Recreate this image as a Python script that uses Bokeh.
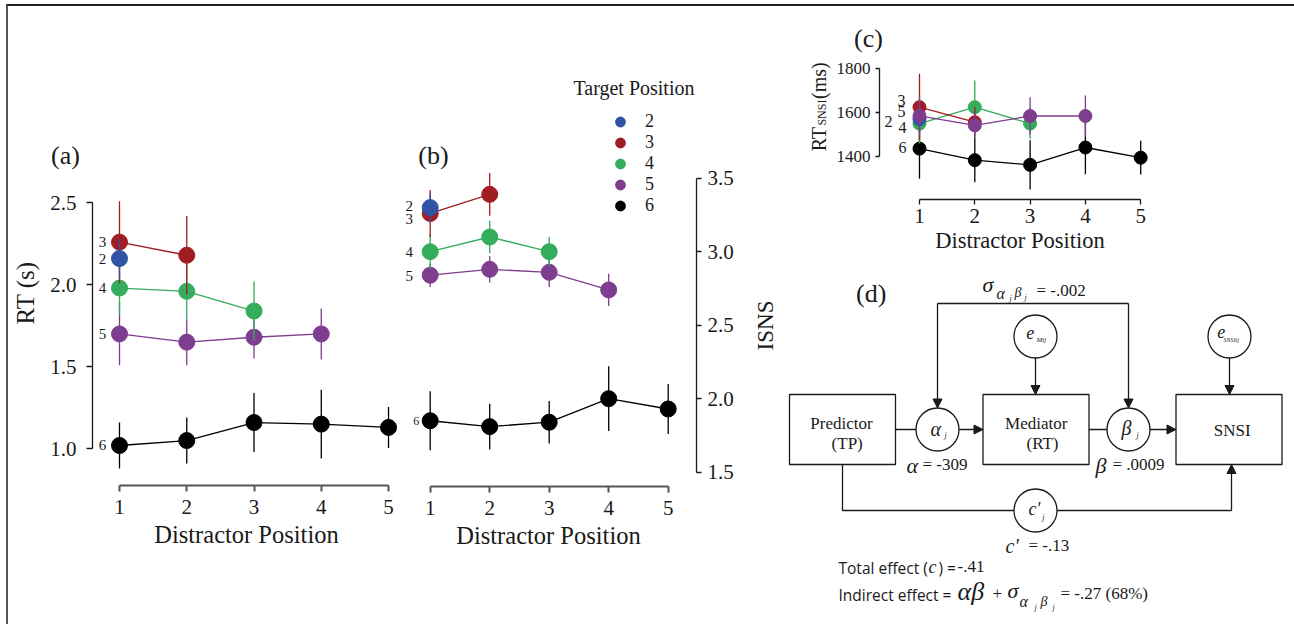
import math
from bokeh.plotting import figure
from bokeh.layouts import row, column
from bokeh.models import (Range1d, FixedTicker, PrintfTickFormatter, Label, Legend,
                          LegendItem, ColumnDataSource, Arrow, NormalHead)
from bokeh.core.properties import value
from bokeh.embed import file_html
from bokeh.resources import INLINE

SERIF = "Liberation Serif"
SANS = "Open Sans"
INK = "#1a1a1a"

# ------------------------------------------------------------------ data
distractor = [1, 2, 3, 4, 5]
target_positions = [2, 3, 4, 5, 6]
target_colors = ["#3153A5", "#A11D24", "#34AD5C", "#7E3D8F", "#000000"]

# (a) RT (s): mean and error per target position, over distractor positions
rt_t2 = [2.16]
rt_t2_err = [0.12]
rt_t3 = [2.26, 2.18]
rt_t3_err = [0.25, 0.24]
rt_t4 = [1.98, 1.96, 1.84]
rt_t4_err = [0.16, 0.17, 0.18]
rt_t5 = [1.70, 1.65, 1.68, 1.70]
rt_t5_err = [0.19, 0.14, 0.13, 0.155]
rt_t6 = [1.02, 1.05, 1.16, 1.15, 1.13]
rt_t6_err = [0.14, 0.14, 0.18, 0.21, 0.125]

# (b) ISNS
isns_t2 = [3.30]
isns_t2_err = [0.10]
isns_t3 = [3.26, 3.39]
isns_t3_err = [0.16, 0.145]
isns_t4 = [3.00, 3.10, 3.00]
isns_t4_err = [0.12, 0.11, 0.10]
isns_t5 = [2.84, 2.88, 2.86, 2.74]
isns_t5_err = [0.08, 0.09, 0.10, 0.11]
isns_t6 = [1.85, 1.81, 1.84, 2.00, 1.93]
isns_t6_err = [0.20, 0.155, 0.145, 0.22, 0.17]

# (c) RT SNSI (ms)
rtsnsi_t2 = [1570]
rtsnsi_t2_err = [60]
rtsnsi_t3 = [1624, 1556]
rtsnsi_t3_err = [150, 70]
rtsnsi_t4 = [1550, 1624, 1550]
rtsnsi_t4_err = [90, 120, 70]
rtsnsi_t5 = [1585, 1542, 1584, 1584]
rtsnsi_t5_err = [90, 56, 85, 92]
rtsnsi_t6 = [1437, 1385, 1364, 1442, 1396]
rtsnsi_t6_err = [136, 100, 111, 120, 76]

# tick labels
rt_ticks = [1.0, 1.5, 2.0, 2.5]
isns_ticks = [1.5, 2.0, 2.5, 3.0, 3.5]
rtsnsi_ticks = [1400, 1600, 1800]

# (d) mediation estimates
alpha_est = "-309"
beta_est = ".0009"
sigma_est = "-.002"
c_prime_est = "-.13"
total_effect = "-.41"
indirect_effect = "-.27 (68%)"

# ------------------------------------------------------------------ helpers
def style_axis(ax, tick_size, label_size, line_color=INK, line_width=1.3, tick_out=6):
    ax.axis_line_color = line_color
    ax.axis_line_width = line_width
    ax.major_tick_line_color = line_color
    ax.major_tick_line_width = line_width
    ax.major_tick_in = 0
    ax.major_tick_out = tick_out
    ax.minor_tick_line_color = None
    ax.major_label_text_font = SERIF
    ax.major_label_text_font_size = tick_size
    ax.major_label_text_color = INK
    ax.axis_label_text_font = SERIF
    ax.axis_label_text_font_size = label_size
    ax.axis_label_text_font_style = "normal"
    ax.axis_label_text_color = INK


def base_fig(w, h, xr, yr, borders, **kw):
    l, r, t, b = borders
    p = figure(width=w, height=h, x_range=Range1d(*xr), y_range=Range1d(*yr),
               output_backend="svg", toolbar_location=None, title=None,
               min_border_left=l, min_border_right=r, min_border_top=t,
               min_border_bottom=b, **kw)
    p.outline_line_color = None
    p.grid.visible = False
    p.background_fill_color = "white"
    p.border_fill_color = "white"
    return p


def draw_series(p, means, errs, order, size, offsets, label_sizes):
    for i in order:
        m, e, c = means[i], errs[i], target_colors[i]
        xs = distractor[:len(m)]
        src = ColumnDataSource(dict(x=xs, y=m,
                                    lo=[a - b for a, b in zip(m, e)],
                                    hi=[a + b for a, b in zip(m, e)]))
        p.segment(x0="x", y0="lo", x1="x", y1="hi", source=src,
                  line_color=c, line_width=1.3)
        p.line("x", "y", source=src, line_color=c, line_width=1.3)
        p.scatter("x", "y", source=src, size=size, fill_color=c, line_color=c)
        dx, dy = offsets[i]
        p.text(x=[xs[0]], y=[m[0]], text=[str(target_positions[i])],
               x_offset=dx, y_offset=dy, text_font=value(SERIF),
               text_font_size=label_sizes[i], text_align="center",
               text_baseline="middle", text_color=INK)


def outer_label(p, side, **kw):
    kw.setdefault("text_font", SERIF)
    kw.setdefault("text_align", "center")
    kw.setdefault("text_baseline", "middle")
    kw.setdefault("text_color", INK)
    p.add_layout(Label(**kw), side)


# ------------------------------------------------------------------ panel (a)
rt_means = [rt_t2, rt_t3, rt_t4, rt_t5, rt_t6]
rt_errs = [rt_t2_err, rt_t3_err, rt_t4_err, rt_t5_err, rt_t6_err]

pa = base_fig(392, 618, (0.5985, 5.178), (0.776, 3.1236), (84, 0, 94, 139))
draw_series(pa, rt_means, rt_errs, [4, 3, 2, 1, 0], 16,
            [(-17, 0)] * 5, ["15px"] * 5)
xa = pa.xaxis[0]
style_axis(xa, "21px", "24.5px", line_color="#555555", line_width=2, tick_out=6)
xa.ticker = FixedTicker(ticks=distractor)
xa.bounds = (1, 5)
xa.axis_label = "Distractor Position"
xa.major_label_standoff = 8
xa.axis_label_standoff = 4
ya = pa.yaxis[0]
style_axis(ya, "21px", "25px")
ya.ticker = FixedTicker(ticks=rt_ticks)
ya.formatter = PrintfTickFormatter(format="%.1f")
ya.bounds = (rt_ticks[0], rt_ticks[-1])
ya.axis_label = "RT (s)"
ya.major_label_standoff = 10
ya.axis_label_standoff = 8
outer_label(pa, "above", x=0.197, y=2.788, text="(a)", text_font_size="26px")

# ------------------------------------------------------------------ panel (b)
isns_means = [isns_t2, isns_t3, isns_t4, isns_t5, isns_t6]
isns_errs = [isns_t2_err, isns_t3_err, isns_t4_err, isns_t5_err, isns_t6_err]

pb = base_fig(382, 618, (0.5008, 5.4756), (1.4027, 4.2327), (0, 86, 64, 138),
              y_axis_location="right")
draw_series(pb, isns_means, isns_errs, [4, 3, 2, 1, 0], 16,
            [(-21, -2), (-21, 6), (-21, 0), (-21, 1), (-14, 0)],
            ["15px", "15px", "15px", "15px", "12px"])
xb = pb.xaxis[0]
style_axis(xb, "21px", "24.5px", line_color="#555555", line_width=2, tick_out=6)
xb.ticker = FixedTicker(ticks=distractor)
xb.bounds = (1, 5)
xb.axis_label = "Distractor Position"
xb.major_label_standoff = 8
xb.axis_label_standoff = 4
yb = pb.yaxis[0]
style_axis(yb, "21px", "25px", tick_out=5)
yb.ticker = FixedTicker(ticks=isns_ticks)
yb.formatter = PrintfTickFormatter(format="%.1f")
yb.bounds = (isns_ticks[0], isns_ticks[-1])
yb.major_label_standoff = 6
outer_label(pb, "above", x=6.635, y=2.498, text="ISNS", angle=math.pi / 2,
            text_font_size="23px")
pb.add_layout(Label(x=1.055, y=3.654, text="(b)", text_font=SERIF,
                    text_font_size="26px", text_align="center",
                    text_baseline="middle", text_color=INK))

# legend: Target Position (proxy renderers carry the legend glyph style)
legend_items = []
for i, t in enumerate(target_positions):
    r = pb.scatter(x=[float("nan")], y=[float("nan")], size=12, line_width=3.6,
                   fill_color=target_colors[i], line_color=target_colors[i])
    legend_items.append(LegendItem(label=str(t), renderers=[r]))
leg = Legend(items=legend_items, location=(211, 270), padding=0, margin=0,
             spacing=0, glyph_width=18, glyph_height=21, label_height=21,
             label_standoff=16, label_text_font=SERIF, label_text_font_size="18px",
             label_text_color=INK, border_line_color=None,
             background_fill_alpha=0)
pb.add_layout(leg)
pb.add_layout(Label(x=3.408, y=4.117, text="Target Position", text_font=SERIF,
                    text_font_size="20px", text_align="left",
                    text_baseline="middle", text_color=INK))

# ------------------------------------------------------------------ panel (c)
rs_means = [rtsnsi_t2, rtsnsi_t3, rtsnsi_t4, rtsnsi_t5, rtsnsi_t6]
rs_errs = [rtsnsi_t2_err, rtsnsi_t3_err, rtsnsi_t4_err, rtsnsi_t5_err, rtsnsi_t6_err]

pc = base_fig(512, 249, (0.2767, 5.358), (1207.6, 1834.3), (97, 134, 54, 54))
draw_series(pc, rs_means, rs_errs, [4, 2, 1, 0, 3], 13,
            [(-31, 2), (-18, -7), (-17, 4), (-18, -4), (-17, -1)],
            ["16px"] * 5)
xc = pc.xaxis[0]
style_axis(xc, "21px", "22.5px", tick_out=5)
xc.ticker = FixedTicker(ticks=distractor)
xc.bounds = (1, 5)
xc.axis_label = "Distractor Position"
xc.major_label_standoff = 4
xc.axis_label_standoff = 2
yc = pc.yaxis[0]
style_axis(yc, "17px", "20px", tick_out=4)
yc.ticker = FixedTicker(ticks=rtsnsi_ticks)
yc.bounds = (rtsnsi_ticks[0], rtsnsi_ticks[-1])
yc.major_label_standoff = 5
for txt, yv, xv, fs in [("RT", 1425, -0.826, "20px"), ("SNSI", 1541, -0.76, "12px"),
                        ("(ms)", 1661, -0.826, "20px")]:
    outer_label(pc, "right", x=xv, y=yv, text=txt, angle=math.pi / 2,
                text_font_size=fs, text_align="left")
outer_label(pc, "above", x=0.078, y=1932, text="(c)", text_font_size="26px")

# ------------------------------------------------------------------ panel (d)
pd_ = figure(width=512, height=369, x_range=Range1d(782, 1294), y_range=Range1d(624, 255),
             output_backend="svg", toolbar_location=None, title=None,
             x_axis_type=None, y_axis_type=None, min_border=0)
pd_.outline_line_color = None
pd_.grid.visible = False

# diagram layout (pixel units of the panel)
node = {"pred": (842, 429), "med": (1035.5, 429), "snsi": (1228.5, 429),
        "alpha": (937, 429), "beta": (1128, 429), "eM": (1035, 336),
        "eS": (1229, 336), "cp": (1035, 510)}
box_w, box_h, rad = 106, 70, 21.5
loop_top, loop_bot = 303, 510

boxes = ["pred", "med", "snsi"]
pd_.quad(left=[node[b][0] - box_w / 2 for b in boxes],
         right=[node[b][0] + box_w / 2 for b in boxes],
         top=[node[b][1] - box_h / 2 for b in boxes],
         bottom=[node[b][1] + box_h / 2 for b in boxes],
         fill_color=None, line_color=INK, line_width=1.3)
circles = ["alpha", "beta", "eM", "eS", "cp"]
pd_.circle(x=[node[c][0] for c in circles], y=[node[c][1] for c in circles],
           radius=rad, fill_color="white", line_color=INK, line_width=1.3)

ax_, ay_ = node["alpha"]
bx_, by_ = node["beta"]
px_, py_ = node["pred"]
mx_, my_ = node["med"]
sx_, sy_ = node["snsi"]
cx_, cy_ = node["cp"]
pd_.multi_line(
    xs=[[px_ + box_w / 2, ax_ - rad], [mx_ + box_w / 2, bx_ - rad], [ax_, bx_],
        [px_, px_, cx_ - rad], [cx_ + rad, sx_ + 2.5]],
    ys=[[py_, ay_], [my_, by_], [loop_top, loop_top],
        [py_ + box_h / 2, loop_bot, loop_bot], [loop_bot, loop_bot]],
    line_color=INK, line_width=1.3)
arrows = ColumnDataSource(dict(
    x0=[ax_ + rad, bx_ + rad, node["eM"][0], node["eS"][0], ax_, bx_, sx_ + 2.5],
    y0=[ay_, by_, node["eM"][1] + rad, node["eS"][1] + rad, loop_top, loop_top, loop_bot],
    x1=[mx_ - box_w / 2, sx_ - box_w / 2, node["eM"][0], node["eS"][0], ax_, bx_, sx_ + 2.5],
    y1=[my_, sy_, my_ - box_h / 2, sy_ - box_h / 2, ay_ - rad, by_ - rad, sy_ + box_h / 2]))
pd_.add_layout(Arrow(end=NormalHead(size=9, fill_color=INK, line_color=INK, line_width=1),
                     x_start="x0", y_start="y0", x_end="x1", y_end="y1",
                     source=arrows, line_color=INK, line_width=1.3))


def dtext(x, y, s, size, italic=False, font=SERIF, align="left"):
    pd_.text(x=[x], y=[y], text=[s], text_font=value(font), text_font_size=size,
             text_font_style="italic" if italic else "normal", text_align=align,
             text_baseline="middle", text_color=INK)


dtext(870.7, 293, "(d)", "26px", align="center")
# sigma_{alpha_j beta_j}
dtext(982, 284, "σ", "22px", italic=True)
dtext(996, 293, "α", "16px", italic=True)
dtext(1009, 298, "j", "8px", italic=True)
dtext(1014, 292, "β", "14px", italic=True)
dtext(1024, 297, "j", "8px", italic=True)
dtext(1036, 290, "= " + sigma_est, "17px")
# boxes
dtext(841, 422.7, "Predictor", "17px", align="center")
dtext(846.7, 443.3, "(TP)", "17px", align="center")
dtext(1035.7, 422.7, "Mediator", "17px", align="center")
dtext(1042, 443.3, "(RT)", "17px", align="center")
dtext(1231.7, 430, "SNSI", "17px", align="center")
# circle labels
dtext(930, 428, "α", "20px", italic=True)
dtext(944, 435, "j", "8px", italic=True)
dtext(1121, 427, "β", "20px", italic=True)
dtext(1136, 435, "j", "8px", italic=True)
dtext(1025.7, 331.7, "e", "18px", italic=True)
dtext(1036, 339, "Mij", "7px", italic=True)
dtext(1216.7, 331, "e", "18px", italic=True)
dtext(1223, 339, "SNSIij", "6px", italic=True)
dtext(1028, 508, "c'", "18px", italic=True)
dtext(1041.7, 517, "j", "8px", italic=True)
# path estimates
dtext(906, 465, "α", "22px", italic=True)
dtext(922, 464, "= " + alpha_est, "17px")
dtext(1095, 465, "β", "22px", italic=True)
dtext(1112, 464, "= " + beta_est, "17px")
dtext(1005, 545, "c'", "20px", italic=True)
dtext(1028, 545, "= " + c_prime_est, "17px")
# totals
dtext(838, 567, "Total effect (", "15.5px", font=SANS)
dtext(928, 566, "c", "18px", italic=True)
dtext(938, 567, ") =", "15.5px", font=SANS)
dtext(957, 566, total_effect, "17px")
dtext(838, 594, "Indirect effect =", "15.5px", font=SANS)
dtext(957, 591, "αβ", "26px", italic=True)
dtext(992, 593, "+", "17px")
dtext(1007, 590, "σ", "22px", italic=True)
dtext(1019, 601, "α", "16px", italic=True)
dtext(1034, 607, "j", "8px", italic=True)
dtext(1040, 601, "β", "14px", italic=True)
dtext(1052, 607, "j", "8px", italic=True)
dtext(1060, 593, "= " + indirect_effect, "17px")

# ------------------------------------------------------------------ layout
# each figure sits in its own box so that Bokeh does not align their frames
right_col = column(row(pc, spacing=0), row(pd_, spacing=0), spacing=0)
layout = row(column(pa, spacing=0), column(pb, spacing=0), right_col, spacing=0,
             styles={"margin-left": "6px", "margin-top": "4px",
                     "border-left": "2px solid #555555",
                     "border-top": "2px solid #222222"})

open("out.html", "w").write(file_html(layout, INLINE))
